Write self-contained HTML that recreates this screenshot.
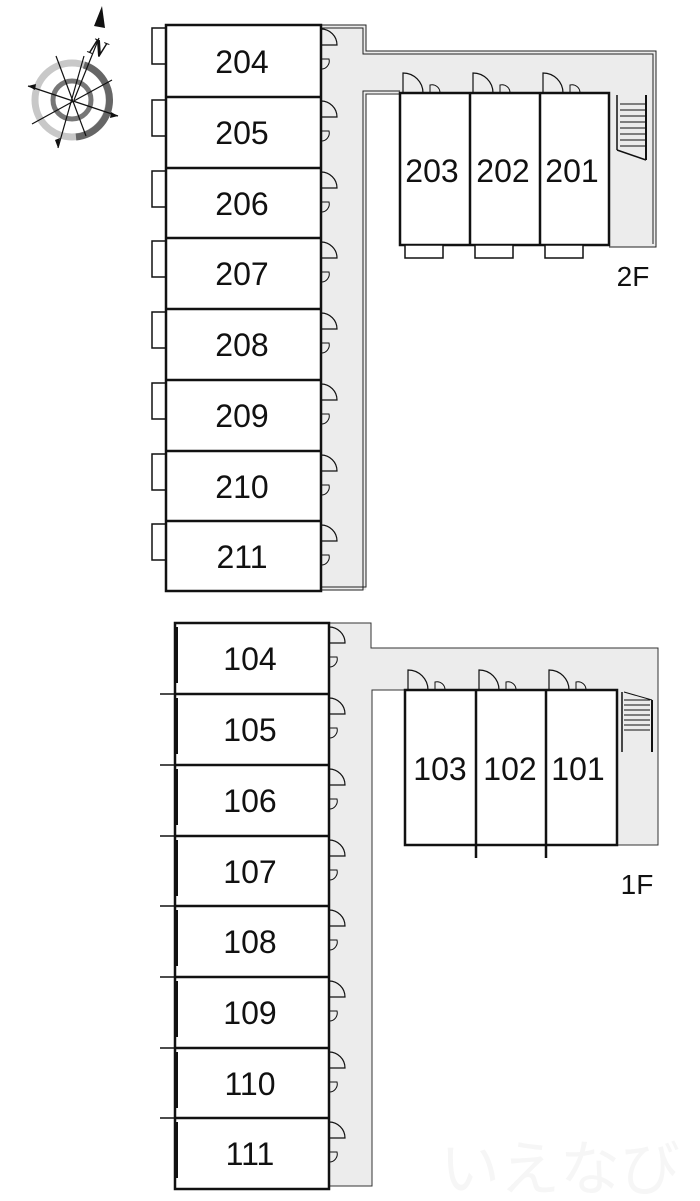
<!DOCTYPE html>
<html><head><meta charset="utf-8"><style>
html,body{margin:0;padding:0;background:#fff;}
svg{display:block}
text{font-family:"Liberation Sans",sans-serif;fill:#111;}
</style></head><body>
<svg id="s" width="700" height="1201" viewBox="0 0 700 1201" xmlns="http://www.w3.org/2000/svg">
<path d="M321 25 H366 V51 H656 V247 H609 V93 H366 V590 H321 Z" fill="#ececec"/>
<path d="M321 25 H366 V51 H656 V247 H609" fill="none" stroke="#222" stroke-width="1"/>
<path d="M321 28 H363 V54 H653 V244" fill="none" stroke="#222" stroke-width="1"/>
<path d="M400 91 H363 V590 H321" fill="none" stroke="#222" stroke-width="1"/>
<path d="M400 94 H366 V587 H321" fill="none" stroke="#222" stroke-width="1"/>
<path d="M329 623 H371 V648 H658 V845 H617 V690 H372 V1186 H329 Z" fill="#ececec"/>
<path d="M329 623 H371 V648 H658 V845 H617" fill="none" stroke="#333" stroke-width="1"/>
<path d="M405 690 H372 V1186 H329" fill="none" stroke="#333" stroke-width="1"/>
<g id="g"></g>
<g font-size="32" text-anchor="middle">
<text x="242" y="73">204</text><text x="242" y="144">205</text><text x="242" y="215">206</text><text x="242" y="285">207</text>
<text x="242" y="356">208</text><text x="242" y="427">209</text><text x="242" y="498">210</text><text x="242" y="568">211</text>
<text x="432" y="182">203</text><text x="503" y="182">202</text><text x="572" y="182">201</text>
<text x="250" y="670">104</text><text x="250" y="741">105</text><text x="250" y="812">106</text><text x="250" y="883">107</text>
<text x="250" y="953">108</text><text x="250" y="1024">109</text><text x="250" y="1095">110</text><text x="250" y="1165">111</text>
<text x="440" y="780">103</text><text x="510" y="780">102</text><text x="578" y="780">101</text>
<text x="633" y="286" font-size="28">2F</text><text x="637" y="894" font-size="28">1F</text>
</g>
<text x="560" y="1190" font-size="60" text-anchor="middle" style="fill:#f6f6f6;font-family:'Noto Sans CJK JP',sans-serif">いえなび</text>
<g transform="translate(72,100)">
<circle r="37" fill="none" stroke="#c8c8c8" stroke-width="7"/>
<path d="M12 -35 A37 37 0 0 1 4 37" fill="none" stroke="#666" stroke-width="7"/>
<circle r="19" fill="none" stroke="#777" stroke-width="5"/>
<g stroke="#111" stroke-width="1.2">
<line x1="-16" y1="-44" x2="14" y2="36"/><line x1="-44" y1="-14" x2="46" y2="16"/>
<line x1="-40" y1="24" x2="40" y2="-20"/><line x1="12" y1="-44" x2="-14" y2="48"/>
<line x1="27" y1="-62" x2="2" y2="0"/>
</g>
<polygon points="30,-94 22,-74 33,-72" fill="#111"/>
<text x="0" y="0" font-size="24" font-style="italic" font-weight="bold" transform="translate(15,-48) rotate(22)" style="font-family:'Liberation Serif',serif">N</text>
<polygon points="-14,48 -12,38 -17,40" fill="#111"/><polygon points="46,16 38,18 39,12" fill="#111"/><polygon points="-44,-14 -36,-16 -37,-10" fill="#111"/>
</g>
</svg>
<script>
const g=document.getElementById('g');let h='';
function R(x,y,w,hh,sw,f){h+=`<rect x="${x}" y="${y}" width="${w}" height="${hh}" fill="${f||'#fff'}" stroke="#111" stroke-width="${sw}"/>`;}
function L(a,b,c,d,sw){h+=`<line x1="${a}" y1="${b}" x2="${c}" y2="${d}" stroke="#111" stroke-width="${sw||1}"/>`;}
function P(d,sw){h+=`<path d="${d}" fill="none" stroke="#111" stroke-width="${sw||1}"/>`;}
function doorR(x,y){P(`M${x} ${y} V${y+26} M${x} ${y} A16 16 0 0 1 ${x+16} ${y+16} H${x}`,1.2);P(`M${x} ${y+30} h8 a8 8 0 0 1 -8 10 z`,1);}
function doorT(x,y){P(`M${x} ${y} V${y-20} A20 20 0 0 1 ${x+20} ${y}`,1.2);P(`M${x+27} ${y} v-8 a8 8 0 0 1 10 8 z`,1);}
const b2=[25,97,168,238,309,380,451,521,591];
for(let i=0;i<8;i++){const y=b2[i];R(152,y+3,14,36,1.5);doorR(321,y+4);}
R(166,25,155,566,2.5,'none');for(let i=1;i<8;i++)L(166,b2[i],321,b2[i],2.5);
R(400,93,209,152,2.5);L(470,93,470,245,2.5);L(540,93,540,245,2.5);
for(const x of[403,473,543]){doorT(x,93);R(x+2,245,38,13,1.5);}
L(617,95,617,150,1.5);L(646,95,646,160,2);for(let y=104;y<=148;y+=6)L(620,y,646,y,1);L(617,150,646,160,1.5);
const b1=[623,694,765,836,906,977,1048,1118,1189];
for(let i=0;i<8;i++){const y=b1[i];doorR(329,y+4);if(i>0)L(160,y,175,y,1.5);L(177,y+4,177,y+60,2);}
R(175,623,154,566,2.5,'none');for(let i=1;i<8;i++)L(175,b1[i],329,b1[i],2.5);
R(405,690,212,155,2.5);L(476,690,476,858,2.5);L(546,690,546,858,2.5);
for(const x of[408,479,549])doorT(x,690);
L(622,692,622,752,1.5);L(652,700,652,752,2);for(let y=700;y<=730;y+=5)L(624,y,650,y,1);L(624,692,652,700,1);
g.innerHTML=h;
</script>
</body></html>
